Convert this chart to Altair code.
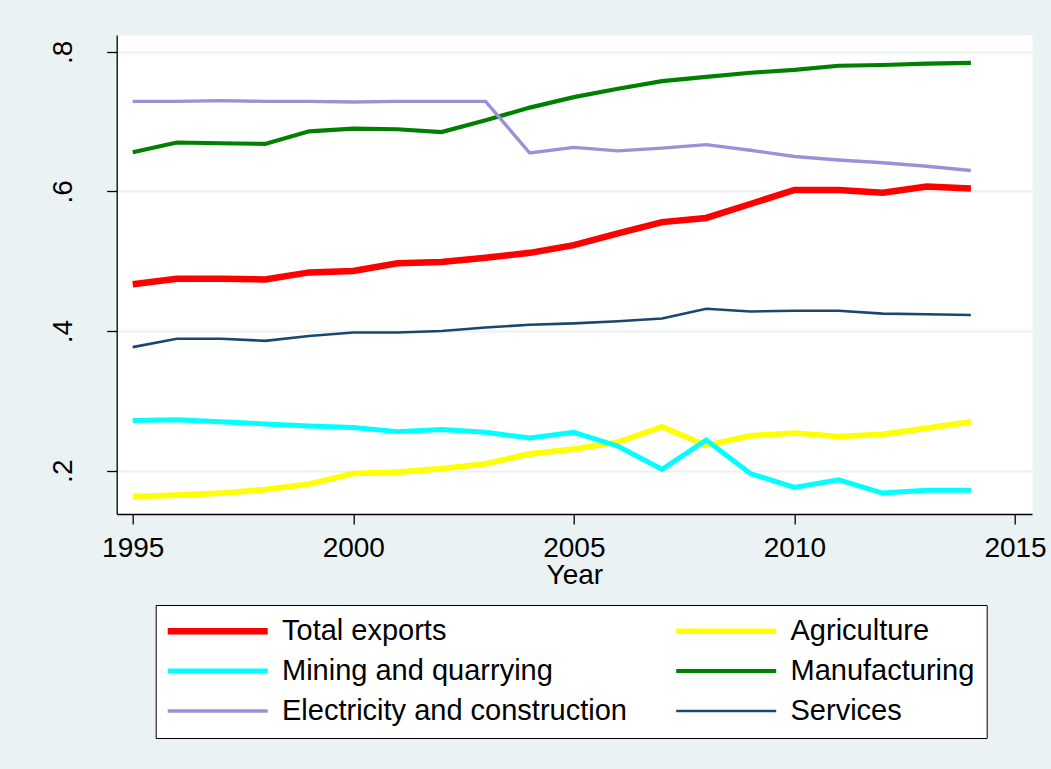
import altair as alt
import pandas as pd

years = list(range(1995, 2015))
series_names = ["Total exports", "Agriculture", "Mining and quarrying",
                "Manufacturing", "Electricity and construction", "Services"]
series_colors = ["#FF0000", "#FFFF00", "#00FFFF", "#008000", "#9A92D6", "#1A476F"]
series_widths = [6.5, 2.6, 2.6, 2.6, 2.6, 2.6]

total = [0.467, 0.475, 0.475, 0.474, 0.484, 0.486, 0.497, 0.499, 0.505, 0.512,
         0.523, 0.540, 0.556, 0.562, 0.582, 0.602, 0.602, 0.598, 0.607, 0.604]
agriculture = [0.163, 0.165, 0.168, 0.173, 0.181, 0.196, 0.198, 0.203, 0.210, 0.224,
               0.231, 0.241, 0.263, 0.236, 0.250, 0.254, 0.249, 0.252, 0.261, 0.270]
mining = [0.272, 0.273, 0.270, 0.267, 0.264, 0.262, 0.256, 0.259, 0.255, 0.247,
          0.255, 0.235, 0.202, 0.244, 0.196, 0.176, 0.187, 0.168, 0.172, 0.172]
manufacturing = [0.656, 0.670, 0.669, 0.668, 0.686, 0.690, 0.689, 0.685, 0.702, 0.720,
                 0.735, 0.747, 0.758, 0.764, 0.770, 0.774, 0.780, 0.781, 0.783, 0.784]
electricity = [0.729, 0.729, 0.730, 0.729, 0.729, 0.728, 0.729, 0.729, 0.729, 0.655,
               0.663, 0.658, 0.662, 0.667, 0.659, 0.650, 0.645, 0.641, 0.636, 0.630]
services = [0.377, 0.389, 0.389, 0.386, 0.393, 0.398, 0.398, 0.400, 0.405, 0.409,
            0.411, 0.414, 0.418, 0.432, 0.428, 0.429, 0.429, 0.425, 0.424, 0.423]

x_ticks = [1995, 2000, 2005, 2010, 2015]
y_ticks = [0.2, 0.4, 0.6, 0.8]

series_values = [total, agriculture, mining, manufacturing, electricity, services]
rows = []
for name, vals in zip(series_names, series_values):
    for yr, v in zip(years, vals):
        rows.append({"year": yr, "value": v, "series": name})
df = pd.DataFrame(rows)

FONT = "Liberation Sans"
BG = "#EAF2F3"

chart = alt.Chart(df).mark_line(strokeCap="butt", strokeJoin="miter").encode(
    x=alt.X("year:Q",
            scale=alt.Scale(domain=[1994.637, 2015.385], nice=False, zero=False),
            axis=alt.Axis(values=x_ticks, format="d", title="Year", grid=False,
                          labelBaseline="alphabetic", labelPadding=32.5,
                          titleBaseline="alphabetic", titleY=69,
                          titleFontSize=28, titleFont=FONT,
                          titleFontWeight="normal", titleColor="black")),
    y=alt.Y("value:Q",
            scale=alt.Scale(domain=[0.138, 0.824], nice=False, zero=False),
            axis=alt.Axis(values=y_ticks, title=None, grid=True,
                          labelExpr="replace(format(datum.value, '.1f'), '0.', '.')",
                          labelAngle=270, labelAlign="center",
                          labelBaseline="alphabetic", labelPadding=35.5)),
    color=alt.Color("series:N", title=None,
                    scale=alt.Scale(domain=series_names, range=series_colors)),
    strokeWidth=alt.StrokeWidth("series:N", title=None,
                                scale=alt.Scale(domain=series_names, range=series_widths)),
).properties(
    width=915.3,
    height=479,
    padding={"left": 116.7, "top": 35, "right": 19, "bottom": 255},
    autosize=alt.AutoSizeParams(type="none"),
    background=BG,
).configure_view(
    fill="white", stroke="transparent"
).configure_axis(
    domainColor="black", domainWidth=1.3,
    tickColor="black", tickWidth=1.3, tickSize=10,
    labelFont=FONT, labelFontSize=28, labelColor="black",
    gridColor=BG, gridWidth=2,
).configure_legend(
    orient="none", legendX=39, legendY=570,
    direction="horizontal", columns=2,
    padding=11.5, fillColor="white", strokeColor="black",
    symbolType="M-5,0H5", symbolSize=400, symbolOffset=36,
    labelOffset=49.8, labelFont=FONT, labelFontSize=29, labelColor="black",
    labelLimit=0, rowPadding=10, columnPadding=37.5,
)

chart.save("out.html", embed_options={"renderer": "svg", "actions": False})
